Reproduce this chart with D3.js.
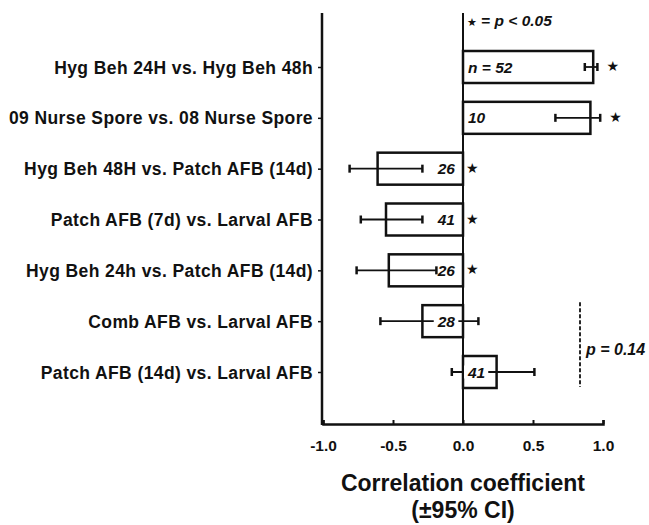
<!DOCTYPE html>
<html>
<head>
<meta charset="utf-8">
<script src="https://cdn.jsdelivr.net/npm/d3@7"></script>
<style>
  body { margin: 0; background: #fff; }
  text { font-family: "Liberation Sans", Arial, sans-serif; font-weight: bold; fill: #111; }
</style>
</head>
<body>
<div id="chart"></div>
<script>
// data
var categories = [
    "Hyg Beh 24H vs. Hyg Beh 48h",
    "09 Nurse Spore vs. 08 Nurse Spore",
    "Hyg Beh 48H vs. Patch AFB (14d)",
    "Patch AFB (7d) vs. Larval AFB",
    "Hyg Beh 24h vs. Patch AFB (14d)",
    "Comb AFB vs. Larval AFB",
    "Patch AFB (14d) vs. Larval AFB"
]
var corr = [0.93, 0.91, -0.61, -0.55, -0.53, -0.29, 0.24]
var ciLow = [0.87, 0.66, -0.81, -0.73, -0.76, -0.59, -0.08]
var ciHigh = [0.96, 0.98, -0.29, -0.29, -0.19, 0.11, 0.51]
var nLabels = ["n = 52", "10", "26", "41", "26", "28", "41"]
var signif = [true, true, true, true, true, false, false]
var xTicks = [-1.0, -0.5, 0.0, 0.5, 1.0]

var width = 649
var height = 525

var svg = d3.select("#chart")
    .append("svg")
    .attr("width", width)
    .attr("height", height)

// scales
var x = d3.scaleLinear().domain([-1, 1]).range([323, 603])
var y = d3.scalePoint().domain(categories).range([67, 372])
var barH = 32

// y axis line + ticks
svg.append("line")
    .attr("x1", 322).attr("x2", 322)
    .attr("y1", 13).attr("y2", 425)
    .attr("stroke", "#111").attr("stroke-width", 2.5)

var yAxis = svg.append("g")
    .attr("transform", "translate(322,0)")
    .call(d3.axisLeft(y).tickSize(4).tickPadding(5))
yAxis.select(".domain").remove()
yAxis.selectAll("line").attr("stroke", "#111").attr("stroke-width", 1.5)
yAxis.selectAll("text")
    .style("font-size", "17.5px")
    .style("font-weight", "bold")
    .style("letter-spacing", "0.4px")
    .attr("fill", "#111")
    .attr("dy", "0.35em")

// x axis
var xAxis = svg.append("g")
    .attr("transform", "translate(0,424)")
    .call(d3.axisBottom(x).tickValues(xTicks).tickSize(-4).tickPadding(16))
xAxis.select(".domain").attr("stroke", "#111").attr("stroke-width", 2.5)
xAxis.selectAll("line").attr("stroke", "#111").attr("stroke-width", 2)
xAxis.selectAll("text")
    .style("font-size", "15.5px")
    .style("font-weight", "bold")
    .attr("fill", "#111")
    .text(function (d) { return d3.format(".1f")(d).replace("−", "-") })

// zero line
svg.append("line")
    .attr("x1", x(0)).attr("x2", x(0))
    .attr("y1", 13).attr("y2", 424)
    .attr("stroke", "#111").attr("stroke-width", 2)

// bars
svg.selectAll("rect.bar")
    .data(corr)
    .enter()
    .append("rect")
    .attr("class", "bar")
    .attr("x", function (d) { return Math.min(x(0), x(d)) })
    .attr("width", function (d) { return Math.abs(x(d) - x(0)) })
    .attr("y", function (d, i) { return y(categories[i]) - barH / 2 })
    .attr("height", barH)
    .attr("fill", "#fff")
    .attr("stroke", "#111")
    .attr("stroke-width", 2.5)

// error bars
var eb = svg.selectAll("g.err")
    .data(corr)
    .enter()
    .append("g")
    .attr("class", "err")
    .attr("stroke", "#111")
    .attr("stroke-width", 1.8)
eb.append("line")
    .attr("x1", function (d, i) { return x(ciLow[i]) })
    .attr("x2", function (d, i) { return x(ciHigh[i]) })
    .attr("y1", function (d, i) { return y(categories[i]) })
    .attr("y2", function (d, i) { return y(categories[i]) })
eb.append("line")
    .attr("x1", function (d, i) { return x(ciLow[i]) })
    .attr("x2", function (d, i) { return x(ciLow[i]) })
    .attr("y1", function (d, i) { return y(categories[i]) - 4 })
    .attr("y2", function (d, i) { return y(categories[i]) + 4 })
    .attr("stroke-width", 2.5)
eb.append("line")
    .attr("x1", function (d, i) { return x(ciHigh[i]) })
    .attr("x2", function (d, i) { return x(ciHigh[i]) })
    .attr("y1", function (d, i) { return y(categories[i]) - 4 })
    .attr("y2", function (d, i) { return y(categories[i]) + 4 })
    .attr("stroke-width", 2.5)

// n labels, on top of the error bars with a white box behind
var labels = svg.selectAll("g.nlab")
    .data(nLabels)
    .enter()
    .append("g")
    .attr("class", "nlab")

labels.each(function (d, i) {
    var g = d3.select(this)
    var neg = corr[i] < 0
    var t = g.append("text")
        .attr("x", neg ? x(0) - 8 : x(0) + 5)
        .attr("y", y(categories[i]) + 5.5)
        .attr("text-anchor", neg ? "end" : "start")
        .style("font-size", "15.5px")
        .style("font-style", "italic")
        .text(d)
    if (i >= 5) {
        var bb = t.node().getBBox()
        g.insert("rect", "text")
            .attr("x", bb.x - 3).attr("y", bb.y + 2)
            .attr("width", bb.width + 6).attr("height", bb.height - 4)
            .attr("fill", "#fff")
    }
})

// significance stars
svg.selectAll("text.star")
    .data(corr)
    .enter()
    .filter(function (d, i) { return signif[i] })
    .append("text")
    .attr("class", "star")
    .attr("x", function (d, i) { return Math.max(x(0) + 3, x(ciHigh[i]) + 9) })
    .attr("y", function (d, i) { return y(categories[i]) + 4 })
    .attr("text-anchor", "start")
    .style("font-family", "DejaVu Sans")
    .style("font-size", "14px")
    .text("★")

// legend for stars
var leg = svg.append("text")
    .attr("x", x(0) + 4)
    .attr("y", 26)
    .style("font-size", "15.5px")
leg.append("tspan").style("font-family", "DejaVu Sans").style("font-size", "11px").text("★")
leg.append("tspan").text(" = ")
leg.append("tspan").style("font-style", "italic").text("p < 0.05")

// dashed bracket for the non significant pair
svg.append("line")
    .attr("x1", 580).attr("x2", 580)
    .attr("y1", y(categories[5]) - 19)
    .attr("y2", y(categories[6]) + 15)
    .attr("stroke", "#111")
    .attr("stroke-width", 1.8)
    .attr("stroke-dasharray", "4,2")
svg.append("text")
    .attr("x", 586)
    .attr("y", (y(categories[5]) + y(categories[6])) / 2 + 8)
    .style("font-size", "16px")
    .style("font-style", "italic")
    .text("p = 0.14")

// axis title
svg.append("text")
    .attr("x", x(0))
    .attr("y", 491)
    .attr("text-anchor", "middle")
    .style("font-size", "23px")
    .text("Correlation coefficient")
svg.append("text")
    .attr("x", x(0))
    .attr("y", 518)
    .attr("text-anchor", "middle")
    .style("font-size", "23px")
    .text("(±95% CI)")
</script>
</body>
</html>
